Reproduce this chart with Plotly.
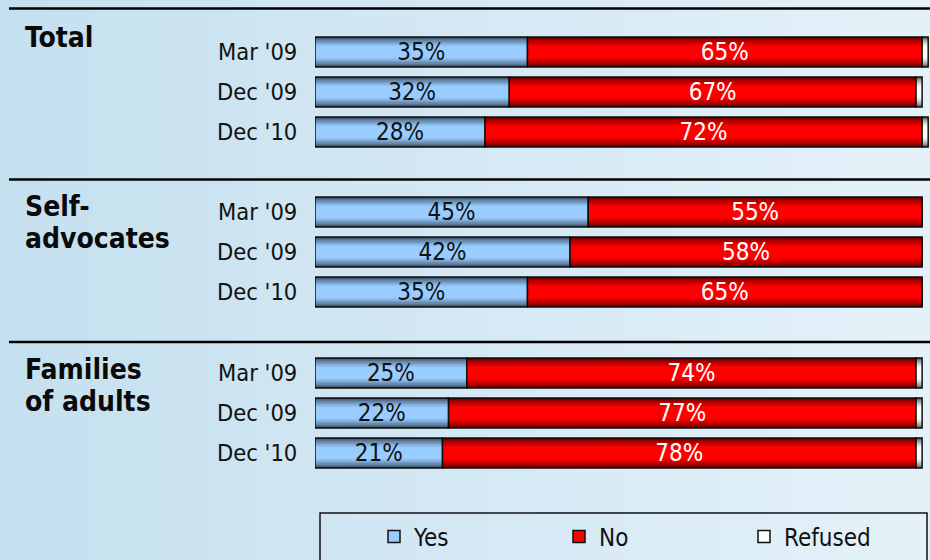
import plotly.graph_objects as go

# ---------------- data ----------------
groups = [["Total"], ["Self-", "advocates"], ["Families", "of adults"]]
periods = ["Mar '09", "Dec '09", "Dec '10"]
series_names = ["Yes", "No", "Refused"]
yes = [[35, 32, 28], [45, 42, 35], [25, 22, 21]]
no = [[65, 67, 72], [55, 58, 65], [74, 77, 78]]
refused = [[1, 1, 1], [0, 0, 0], [1, 1, 1]]

# ---------------- styling ----------------
FONT = "DejaVu Sans Condensed, DejaVu Sans, sans-serif"
W, H = 930, 560
series_colors = ["#99CCFF", "#FF0000", "#FFFFFF"]
text_colors = ["#111111", "#FFFFFF", None]
dom_px = [(32, 152), (192, 312), (353, 473)]
x_left_px = 315
BAR_W = 0.75

fig = go.Figure()

# background gradient strips
nstrip = 40
c0 = (197, 224, 239)
c1 = (228, 241, 249)
for i in range(nstrip):
    t = i / (nstrip - 1)
    col = tuple(round(c0[k] + (c1[k] - c0[k]) * t) for k in range(3))
    fig.add_shape(type="rect", xref="paper", yref="paper",
                  x0=i / nstrip, x1=(i + 1) / nstrip + 0.002, y0=0, y1=1,
                  line=dict(width=0), fillcolor="rgb(%d,%d,%d)" % col, layer="below")

band_alphas = [0.6, 0.44, 0.3, 0.17, 0.07]
band_h = 0.045

for g in range(3):
    ax = "" if g == 0 else str(g + 1)
    xa, ya = "x" + ax, "y" + ax
    vals = [yes[g], no[g], refused[g]]
    bases = [[0, 0, 0], list(yes[g]), [yes[g][j] + no[g][j] for j in range(3)]]
    for s in range(3):
        fig.add_trace(go.Bar(
            orientation="h", y=periods, x=vals[s], base=bases[s],
            width=BAR_W, name=series_names[s], legendgroup=series_names[s],
            showlegend=(g == 0),
            marker=dict(color=series_colors[s], line=dict(color="#111111", width=1.5)),
            xaxis=xa, yaxis=ya, hoverinfo="skip"))
    all_y = periods * 3
    all_x = vals[0] + vals[1] + vals[2]
    all_base = bases[0] + bases[1] + bases[2]
    for i, a in enumerate(band_alphas):
        for off in (-BAR_W / 2 + i * band_h, BAR_W / 2 - (i + 1) * band_h):
            fig.add_trace(go.Bar(
                orientation="h", y=all_y, x=all_x, base=all_base,
                width=band_h, offset=off, showlegend=False,
                marker=dict(color="rgba(0,0,0,%.2f)" % a, line=dict(width=0)),
                xaxis=xa, yaxis=ya, hoverinfo="skip"))
    # value labels (transparent bars carrying centred text)
    for s in range(2):
        fig.add_trace(go.Bar(
            orientation="h", y=periods, x=vals[s], base=bases[s], width=BAR_W,
            marker=dict(color="rgba(0,0,0,0)", line=dict(width=0)),
            text=["%d%%" % v for v in vals[s]], textposition="inside",
            insidetextanchor="middle", textangle=0, constraintext="none",
            insidetextfont=dict(family=FONT, size=24, color=text_colors[s]),
            showlegend=False, hoverinfo="skip", xaxis=xa, yaxis=ya))

    top, bot = dom_px[g]
    fig.layout["xaxis" + ax] = dict(domain=[x_left_px / W, 1], range=[0, 101.3],
                                    visible=False, anchor=ya, fixedrange=True)
    fig.layout["yaxis" + ax] = dict(domain=[1 - bot / H, 1 - top / H], type="category",
                                    categoryorder="array", categoryarray=periods,
                                    range=[2.5, -0.5], anchor=xa, showgrid=False,
                                    zeroline=False, showline=False,
                                    ticks="outside", ticklen=12, tickcolor="rgba(0,0,0,0)",
                                    tickfont=dict(family=FONT, size=23.5, color="#111111"))

# group titles (line centres in px)
title_y = [[37.5], [206.5, 238.5], [369, 401.5]]
for g in range(3):
    for line, ypx in zip(groups[g], title_y[g]):
        fig.add_annotation(xref="paper", yref="paper", x=23 / W, y=1 - ypx / H,
                           xanchor="left", yanchor="middle", align="left", showarrow=False,
                           text="<b>%s</b>" % line,
                           font=dict(family=FONT, size=28, color="#0a0a0a"))

# separator lines
for ypx, x0 in [(8.5, 9), (179.5, 9), (342, 9)]:
    fig.add_shape(type="line", xref="paper", yref="paper", x0=x0 / W, x1=1,
                  y0=1 - ypx / H, y1=1 - ypx / H, line=dict(color="#000000", width=2.5))

# legend box
fig.add_shape(type="rect", xref="paper", yref="paper", x0=320 / W, x1=927 / W,
              y0=-0.05, y1=1 - 513 / H, line=dict(color="#111111", width=1.5))

fig.update_layout(
    width=W, height=H, margin=dict(l=0, r=0, t=0, b=0, autoexpand=False),
    barmode="overlay", paper_bgcolor="#D6E9F4", plot_bgcolor="rgba(0,0,0,0)",
    font=dict(family=FONT),
    legend=dict(orientation="h", x=374 / W, y=1 - 537 / H, xanchor="left", yanchor="middle",
                bgcolor="rgba(0,0,0,0)", borderwidth=0, entrywidth=140,
                font=dict(family=FONT, size=24, color="#111111"), traceorder="normal"),
)

fig.write_html("out.html", config={"displayModeBar": False},
               post_script="document.body.style.margin='0';document.body.style.overflow='hidden';")
